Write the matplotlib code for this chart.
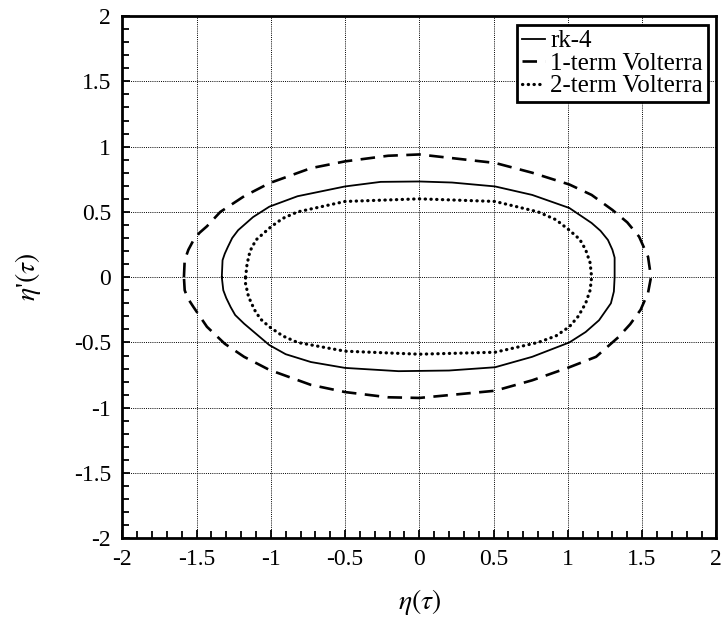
import matplotlib.pyplot as plt
from matplotlib.ticker import MultipleLocator

# phase-plane trajectories, read point by point around each closed orbit
rk4_x = [-1.33, -1.325, -1.31, -1.29, -1.26, -1.22, -1.12, -1.01, -0.82, -0.50, -0.26, 0.0,
         0.22, 0.51, 0.76, 1.01, 1.16, 1.22, 1.27, 1.30, 1.315, 1.315, 1.31, 1.29, 1.21,
         1.12, 1.01, 0.76, 0.51, 0.20, -0.14, -0.50, -0.73, -0.90, -1.01, -1.18, -1.24,
         -1.27, -1.30, -1.32, -1.33]
rk4_y = [0.0, 0.13, 0.18, 0.23, 0.30, 0.36, 0.46, 0.54, 0.62, 0.695, 0.73, 0.733,
         0.725, 0.695, 0.63, 0.53, 0.415, 0.355, 0.285, 0.21, 0.15, 0.0, -0.11, -0.20, -0.33,
         -0.42, -0.50, -0.61, -0.69, -0.715, -0.72, -0.695, -0.65, -0.59, -0.52, -0.356, -0.29,
         -0.23, -0.16, -0.10, 0.0]

v1_x = [-1.585, -1.58, -1.555, -1.52, -1.48, -1.43, -1.34, -1.18, -1.01, -0.73, -0.50, -0.21,
        0.0, 0.51, 0.76, 1.01, 1.16, 1.30, 1.40, 1.48, 1.54, 1.56, 1.54, 1.49, 1.42, 1.34,
        1.19, 1.01, 0.76, 0.51, 0.0, -0.21, -0.50, -0.73, -1.01, -1.18, -1.31, -1.43,
        -1.52, -1.56, -1.58, -1.585]
v1_y = [0.0, 0.13, 0.21, 0.285, 0.34, 0.39, 0.50, 0.62, 0.72, 0.835, 0.887, 0.93,
        0.94, 0.875, 0.80, 0.71, 0.63, 0.515, 0.42, 0.31, 0.156, 0.0, -0.12, -0.25, -0.36,
        -0.46, -0.61, -0.69, -0.79, -0.87, -0.925, -0.92, -0.88, -0.825, -0.71, -0.61, -0.51,
        -0.38, -0.23, -0.16, -0.10, 0.0]

v2_x = [-1.17, -1.16, -1.14, -1.10, -1.0, -0.92, -0.82, -0.50, 0.0, 0.51, 0.80, 0.92, 1.01,
        1.08, 1.12, 1.15, 1.16, 1.15, 1.12, 1.07, 1.01, 0.92, 0.80, 0.51, 0.0, -0.50, -0.82,
        -0.92, -1.01, -1.07, -1.11, -1.15, -1.17, -1.17]
v2_y = [0.0, 0.10, 0.20, 0.285, 0.385, 0.45, 0.50, 0.58, 0.60, 0.58, 0.50, 0.44, 0.36,
        0.29, 0.21, 0.11, 0.0, -0.10, -0.20, -0.30, -0.38, -0.45, -0.50, -0.575, -0.59, -0.567,
        -0.50, -0.45, -0.38, -0.32, -0.25, -0.15, -0.05, 0.0]

labels = ['rk-4', '1-term Volterra', '2-term Volterra']

plt.rcParams['font.family'] = ['Liberation Serif', 'DejaVu Serif']
plt.rcParams['mathtext.fontset'] = 'stix'

fig = plt.figure(figsize=(7.28, 6.18), dpi=100)
ax = fig.add_axes([0.168, 0.129, 0.816, 0.845])

ax.plot(rk4_x, rk4_y, color='black', lw=1.3, label=labels[0])
ax.plot(v1_x, v1_y, color='black', lw=1.9, linestyle=(0, (5.5, 3.2)), label=labels[1])
ax.plot(v2_x, v2_y, color='black', lw=2.3, linestyle=(0, (0.1, 1.7)),
        dash_capstyle='round', label=labels[2])

ax.set_xlim(-2, 2)
ax.set_ylim(-2, 2)
ax.xaxis.set_major_locator(MultipleLocator(0.5))
ax.yaxis.set_major_locator(MultipleLocator(0.5))
ax.xaxis.set_minor_locator(MultipleLocator(0.1))
ax.yaxis.set_minor_locator(MultipleLocator(0.1))
ax.xaxis.set_major_formatter(lambda v, p: f'{v:g}')
ax.yaxis.set_major_formatter(lambda v, p: f'{v:g}')
ax.tick_params(which='both', direction='in', top=False, right=False, labelsize=17, width=1.3)
ax.tick_params(which='major', length=6, pad=8)
ax.tick_params(which='minor', length=5)
ax.grid(True, which='major', color='black', linestyle=(0, (1, 1.2)), linewidth=0.7)
for s in ax.spines.values():
    s.set_linewidth(2)

ax.set_xlabel(r'$\eta(\tau)$', fontsize=20, labelpad=12)
ax.set_ylabel(r"$\eta$'$(\tau)$", fontsize=20, labelpad=22)

leg = ax.legend(loc='upper right', fontsize=18, handlelength=0.9, handletextpad=0.2,
                labelspacing=0.0, borderpad=0.2, borderaxespad=0.35, fancybox=False,
                framealpha=1)
leg.get_frame().set_edgecolor('black')
leg.get_frame().set_linewidth(2)

fig.savefig('out.png', dpi=100)
